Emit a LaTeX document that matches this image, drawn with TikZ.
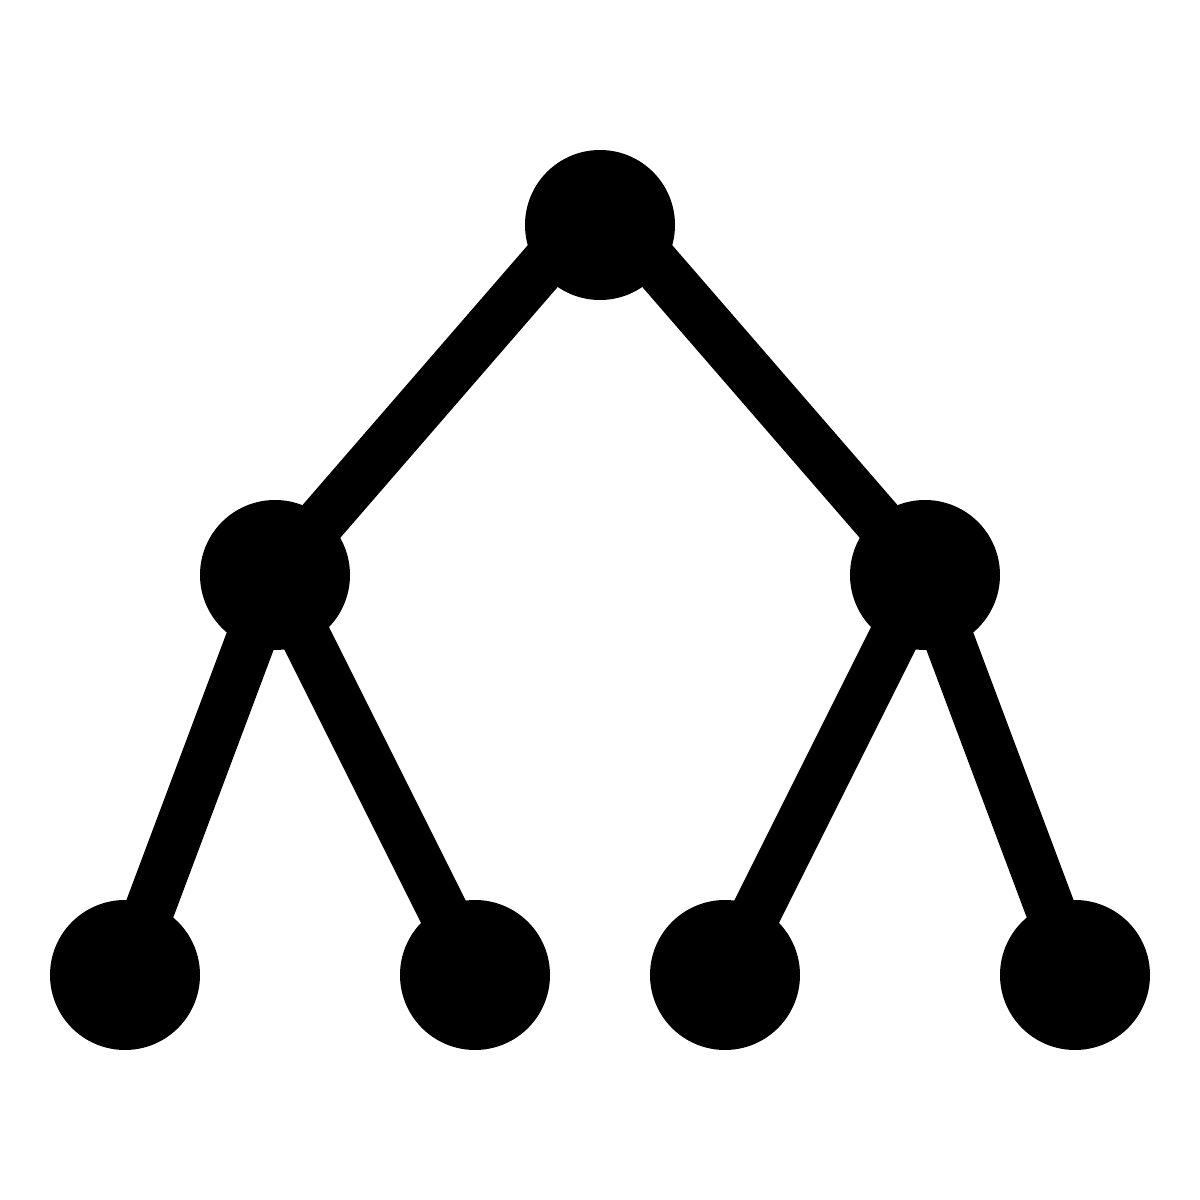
\documentclass[tikz,border=0pt]{standalone}
\usepackage{tikz}

\begin{document}
\begin{tikzpicture} [scale=1]
\useasboundingbox (0,0) rectangle (12,12);
% top
\coordinate (root) at (6,9.75);
\coordinate (roottop) at (6,10);
% middle row
\coordinate (left) at (2.75,6.25);
\coordinate (right) at (9.25,6.25);
% bottom row
\coordinate (leaf1) at (1.25,2.25);
\coordinate (leaf2) at (4.75,2.25);
\coordinate (leaf3) at (7.25,2.25);
\coordinate (leaf4) at (10.75,2.25);
\draw [line width=0.5cm] (left)--(roottop)--(right);
\draw [line width=0.5cm] (leaf1)--(left)--(leaf2);
\draw [line width=0.5cm] (leaf3)--(right)--(leaf4);
\fill (root) circle (0.75);
\fill (left) circle (0.75);
\fill (right) circle (0.75);
\fill (leaf1) circle (0.75);
\fill (leaf2) circle (0.75);
\fill (leaf3) circle (0.75);
\fill (leaf4) circle (0.75);
\end{tikzpicture}
\end{document}
